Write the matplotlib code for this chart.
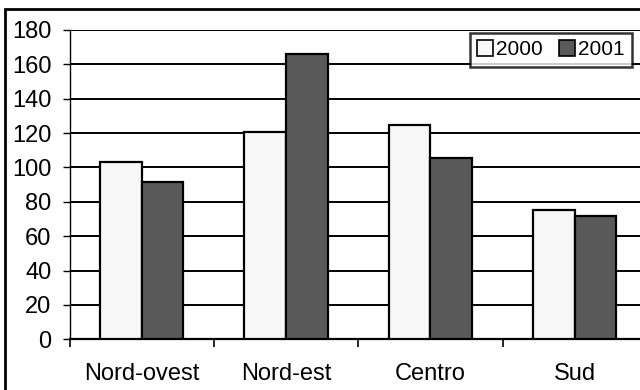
import matplotlib.pyplot as plt
import numpy as np
from matplotlib.patches import Rectangle

regions = ['Nord-ovest', 'Nord-est', 'Centro', 'Sud']
values_2000 = [103, 120.5, 124.5, 75]
values_2001 = [91.5, 166, 105.5, 71.5]
y_ticks = [0, 20, 40, 60, 80, 100, 120, 140, 160, 180]


def main():
    plt.rcParams['font.family'] = ['Liberation Sans', 'DejaVu Sans']
    W, H = 640, 390
    fig = plt.figure(figsize=(W / 100, H / 100), dpi=100)
    fig.patch.set_facecolor('white')

    # plot area runs a little past the right edge of the canvas
    left, right, top, bottom = 69.5, 647, 30, 339.3
    ax = fig.add_axes([left / W, (H - bottom) / H, (right - left) / W, (bottom - top) / H])

    centers = np.arange(len(regions)) + 0.5
    width = 0.288
    ax.bar(centers - width / 2, values_2000, width, color='#f8f8f8',
           edgecolor='black', linewidth=1.6, label='2000', zorder=3)
    ax.bar(centers + width / 2, values_2001, width, color='#595959',
           edgecolor='black', linewidth=1.6, label='2001', zorder=3)

    ax.set_xlim(0, len(regions))
    ax.set_ylim(0, 180)
    ax.set_yticks(y_ticks)
    ax.yaxis.grid(True, color='black', linewidth=1.4, zorder=1)
    ax.set_axisbelow(True)

    ax.set_xticks(np.arange(len(regions) + 1))
    ax.set_xticklabels([])
    ax.set_xticks(centers, minor=True)
    ax.set_xticklabels(regions, minor=True)
    ax.tick_params(axis='x', which='major', direction='out', length=6, width=1.2)
    ax.tick_params(axis='x', which='minor', length=0, pad=17, labelsize=17)
    ax.tick_params(axis='y', direction='out', length=5, width=1.0, pad=8, labelsize=17)

    for side in ('top', 'right'):
        ax.spines[side].set_visible(False)
    ax.spines['left'].set_linewidth(1.0)
    ax.spines['bottom'].set_linewidth(1.6)

    leg = ax.legend(loc='upper right', bbox_to_anchor=(632 / W, (H - 33) / H),
                    bbox_transform=fig.transFigure, ncol=2, fontsize=15,
                    frameon=True, fancybox=False, borderpad=0.35,
                    handlelength=0.75, handleheight=0.75, handletextpad=0.15,
                    columnspacing=0.8, borderaxespad=0)
    leg.get_frame().set_edgecolor('black')
    leg.get_frame().set_linewidth(1.8)
    for h in leg.legend_handles:
        h.set_linewidth(1.2)

    # outer chart border, open to the right and bottom
    fig.patches.append(Rectangle((5 / W, -0.1), 1.1, (H - 9) / H + 0.1,
                                 transform=fig.transFigure, fill=False,
                                 edgecolor='black', linewidth=2.0))

    fig.savefig('out.png', dpi=100)


if __name__ == '__main__':
    main()
